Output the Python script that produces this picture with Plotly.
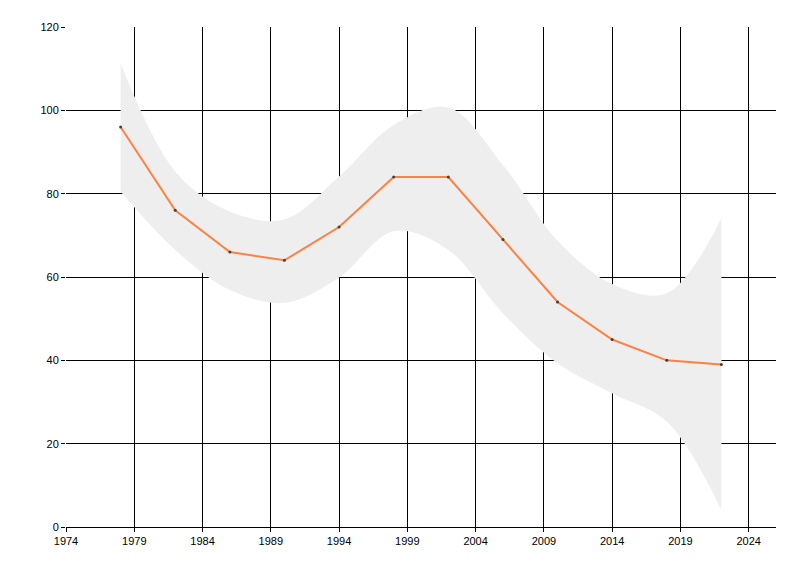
import plotly.graph_objects as go

years = [1978, 1982, 1986, 1990, 1994, 1998, 2002, 2006, 2010, 2014, 2018, 2022]
values = [96, 76, 66, 64, 72, 84, 84, 69, 54, 45, 40, 39]
upper = [111.3, 85.3, 75.7, 73.8, 84.1, 96.5, 100.7, 86.9, 68.7, 58.3, 56.1, 74.1]
lower = [80.5, 66.5, 56.9, 53.8, 59.9, 71.0, 66.5, 51.3, 39.3, 32.1, 25.3, 4.1]
x_ticks = list(range(1974, 2025, 5))
y_ticks = list(range(0, 121, 20))

fig = go.Figure()
fig.add_trace(go.Scatter(x=years, y=lower, mode="lines",
                         line=dict(color="rgba(0,0,0,0)", width=0, shape="spline", smoothing=1.0),
                         hoverinfo="skip", showlegend=False))
fig.add_trace(go.Scatter(x=years, y=upper, mode="lines", fill="tonexty",
                         fillcolor="#EEEEEE",
                         line=dict(color="rgba(0,0,0,0)", width=0, shape="spline", smoothing=1.0),
                         hoverinfo="skip", showlegend=False))
fig.add_trace(go.Scatter(x=years, y=values, mode="lines+markers",
                         line=dict(color="#FF8040", width=2),
                         marker=dict(color="#404040", size=3),
                         showlegend=False))

axis_font = dict(family="Liberation Sans, Arial, sans-serif", size=11, color="#000000")
fig.update_xaxes(range=[1974, 2026], tickvals=x_ticks, ticktext=[str(v) for v in x_ticks],
                 showgrid=True, gridcolor="#000000", gridwidth=1,
                 showline=True, linecolor="#000000", linewidth=1,
                 ticks="outside", ticklen=4, tickcolor="#000000",
                 zeroline=False, tickfont=axis_font)
fig.update_yaxes(range=[0, 120], tickvals=y_ticks,
                 showgrid=True, gridcolor="#000000", gridwidth=1,
                 showline=False,
                 ticks="outside", ticklen=4, tickcolor="#000000",
                 zeroline=False, tickfont=axis_font)
fig.update_layout(width=792, height=568,
                  margin=dict(l=58, r=24, t=19, b=49),
                  paper_bgcolor="#FFFFFF", plot_bgcolor="#FFFFFF",
                  showlegend=False)
fig.write_html("out.html")
